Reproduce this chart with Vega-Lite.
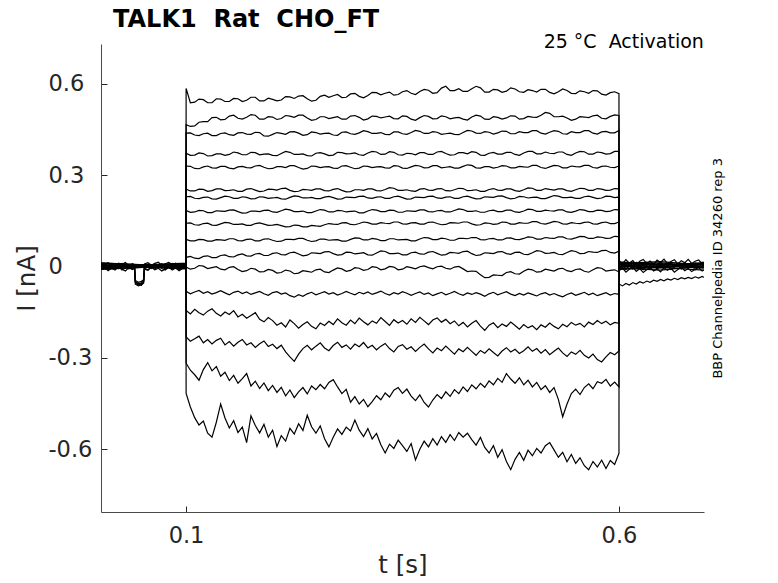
{
"$schema":"https://vega.github.io/schema/vega-lite/v6.json",
"width":603,"height":468,
"autosize":{"type":"none"},
"padding":{"left":101,"top":44,"right":74,"bottom":71},
"background":"white",
"config":{"view":{"stroke":null},"font":"DejaVu Sans"},
"encoding":{
"x":{"field":"t","type":"quantitative","scale":{"domain":[0.0018,0.6982],"nice":false,"zero":false},
"axis":{"values":[0.1,0.6],"format":".1f","title":"t [s]","grid":false,"tickSize":-6,"tickColor":"#262626","domainColor":"#4a4a4a","labelFontSize":22.5,"labelColor":"#262626","labelPadding":18,"labelFont":"DejaVu Sans","titleFont":"DejaVu Sans","titleFontSize":24.5,"titleFontWeight":"normal","titleColor":"#262626","titlePadding":7}},
"y":{"field":"v","type":"quantitative","scale":{"domain":[-0.807,0.731],"nice":false,"zero":false},
"axis":{"values":[-0.6,-0.3,0,0.3,0.6],"labelExpr":"datum.value == 0 ? '\u00a00' : (datum.value < 0 ? '-' + format(-datum.value, '.1f') : format(datum.value, '.1f'))","labelAlign":"left","labelPadding":59,"title":"I [nA]","grid":false,"tickSize":-6,"tickColor":"#262626","domainColor":"#4a4a4a","labelFontSize":22.5,"labelColor":"#262626","labelFont":"DejaVu Sans","titleFont":"DejaVu Sans","titleFontSize":24.5,"titleFontWeight":"normal","titleColor":"#262626","titlePadding":9}}
},
"layer":[
{
"data":{"values":[
{"t":0.002,"a":0.010,"e":-0.002,"i":0.003,"m":-0.011,"q":-0.007,"b":0.008,"c":-0.004,"d":0.012,"f":0.001,"g":-0.008,"h":0.006,"j":-0.002,"k":0.011,"l":-0.010,"n":0.004,"o":-0.006,"p":0.002},
{"t":0.006,"a":0.003,"e":0.007,"i":-0.006,"m":-0.003,"q":0.001},
{"t":0.010,"a":0.012,"e":0.001,"i":0.001,"m":-0.014,"q":-0.010},
{"t":0.014,"a":0.005,"e":0.009,"i":-0.004,"m":-0.006,"q":-0.002},
{"t":0.018,"a":0.001,"e":-0.003,"i":0.005,"m":-0.012,"q":-0.008},
{"t":0.022,"a":0.011,"e":0.004,"i":-0.007,"m":-0.001,"q":0.000},
{"t":0.026,"a":0.007,"e":0.010,"i":-0.001,"m":-0.009,"q":-0.012},
{"t":0.030,"a":0.013,"e":-0.001,"i":0.004,"m":-0.015,"q":-0.005},
{"t":0.034,"a":0.002,"e":0.006,"i":-0.008,"m":-0.004,"q":0.002},
{"t":0.038,"a":0.009,"e":0.000,"i":0.002,"m":-0.010,"q":-0.009},
{"t":0.0405,"a":0.006,"e":0.003,"i":-0.003,"m":-0.007,"q":-0.004},
{"t":0.0415,"a":-0.046,"e":-0.051,"i":-0.055,"m":-0.058,"q":-0.050},
{"t":0.045,"a":-0.052,"e":-0.058,"i":-0.061,"m":-0.064,"q":-0.056},
{"t":0.0485,"a":-0.049,"e":-0.054,"i":-0.057,"m":-0.060,"q":-0.062},
{"t":0.051,"a":-0.044,"e":-0.049,"i":-0.052,"m":-0.055,"q":-0.047},
{"t":0.052,"a":0.008,"e":0.001,"i":-0.004,"m":-0.009,"q":-0.006},
{"t":0.056,"a":0.012,"e":0.007,"i":0.002,"m":-0.013,"q":-0.011},
{"t":0.060,"a":0.004,"e":-0.002,"i":-0.007,"m":-0.003,"q":-0.001},
{"t":0.064,"a":0.010,"e":0.008,"i":0.000,"m":-0.011,"q":-0.009},
{"t":0.068,"a":0.014,"e":0.002,"i":-0.005,"m":-0.006,"q":0.001},
{"t":0.072,"a":0.003,"e":0.009,"i":0.003,"m":-0.015,"q":-0.007},
{"t":0.076,"a":0.009,"e":-0.001,"i":-0.008,"m":-0.008,"q":-0.012},
{"t":0.080,"a":0.013,"e":0.005,"i":0.001,"m":-0.002,"q":-0.003},
{"t":0.084,"a":0.006,"e":0.010,"i":-0.004,"m":-0.012,"q":-0.008},
{"t":0.088,"a":0.011,"e":0.000,"i":0.004,"m":-0.005,"q":0.000},
{"t":0.092,"a":0.002,"e":0.006,"i":-0.006,"m":-0.014,"q":-0.010},
{"t":0.096,"a":0.010,"e":0.003,"i":-0.001,"m":-0.007,"q":-0.004},
{"t":0.100,"a":0.007,"e":0.004,"i":-0.002,"m":-0.006,"q":-0.004,"b":0.003,"c":0.006,"d":-0.002,"f":0.009,"g":0.002,"h":-0.005,"j":0.011,"k":0.000,"l":0.004,"n":-0.008,"o":0.007,"p":-0.003},
{"t":0.1001,"a":0.585,"b":0.466,"c":0.438,"d":0.372,"e":0.330,"f":0.254,"g":0.229,"h":0.184,"i":0.142,"j":0.089,"k":0.030,"l":-0.002,"m":-0.082,"n":-0.145,"o":-0.232,"p":-0.318,"q":-0.417},
{"t":0.105,"a":0.538,"b":0.460,"c":0.439,"d":0.365,"e":0.329,"f":0.248,"g":0.230,"h":0.178,"i":0.143,"j":0.084,"k":0.033,"l":-0.009,"m":-0.090,"n":-0.156,"o":-0.246,"p":-0.341,"q":-0.462},
{"t":0.11,"a":0.540,"b":0.462,"c":0.432,"d":0.366,"e":0.322,"f":0.248,"g":0.224,"h":0.179,"i":0.137,"j":0.084,"k":0.027,"l":-0.006,"m":-0.084,"n":-0.141,"o":-0.238,"p":-0.356,"q":-0.497},
{"t":0.115,"a":0.550,"b":0.474,"c":0.430,"d":0.373,"e":0.321,"f":0.254,"g":0.223,"h":0.184,"i":0.136,"j":0.089,"k":0.026,"l":0.003,"m":-0.079,"n":-0.152,"o":-0.229,"p":-0.374,"q":-0.521},
{"t":0.12,"a":0.548,"b":0.476,"c":0.436,"d":0.371,"e":0.327,"f":0.253,"g":0.227,"h":0.183,"i":0.141,"j":0.088,"k":0.033,"l":0.001,"m":-0.088,"n":-0.160,"o":-0.251,"p":-0.339,"q":-0.508},
{"t":0.125,"a":0.538,"b":0.476,"c":0.438,"d":0.363,"e":0.330,"f":0.247,"g":0.228,"h":0.177,"i":0.142,"j":0.083,"k":0.035,"l":-0.007,"m":-0.083,"n":-0.147,"o":-0.240,"p":-0.316,"q":-0.548},
{"t":0.13,"a":0.538,"b":0.489,"c":0.430,"d":0.364,"e":0.324,"f":0.249,"g":0.222,"h":0.177,"i":0.136,"j":0.083,"k":0.029,"l":-0.004,"m":-0.091,"n":-0.139,"o":-0.255,"p":-0.343,"q":-0.561},
{"t":0.135,"a":0.551,"b":0.490,"c":0.430,"d":0.370,"e":0.323,"f":0.255,"g":0.221,"h":0.183,"i":0.135,"j":0.088,"k":0.029,"l":-0.001,"m":-0.086,"n":-0.154,"o":-0.243,"p":-0.329,"q":-0.512},
{"t":0.14,"a":0.550,"b":0.482,"c":0.437,"d":0.370,"e":0.329,"f":0.255,"g":0.226,"h":0.182,"i":0.140,"j":0.087,"k":0.036,"l":-0.009,"m":-0.080,"n":-0.163,"o":-0.236,"p":-0.361,"q":-0.452},
{"t":0.145,"a":0.542,"b":0.483,"c":0.439,"d":0.365,"e":0.329,"f":0.249,"g":0.231,"h":0.181,"i":0.145,"j":0.086,"k":0.038,"l":-0.011,"m":-0.087,"n":-0.150,"o":-0.258,"p":-0.348,"q":-0.498},
{"t":0.15,"a":0.542,"b":0.494,"c":0.433,"d":0.368,"e":0.323,"f":0.250,"g":0.229,"h":0.185,"i":0.143,"j":0.091,"k":0.032,"l":-0.003,"m":-0.093,"n":-0.158,"o":-0.247,"p":-0.375,"q":-0.531},
{"t":0.155,"a":0.552,"b":0.497,"c":0.431,"d":0.376,"e":0.321,"f":0.252,"g":0.224,"h":0.186,"i":0.138,"j":0.091,"k":0.031,"l":-0.001,"m":-0.085,"n":-0.145,"o":-0.262,"p":-0.358,"q":-0.507},
{"t":0.16,"a":0.551,"b":0.487,"c":0.439,"d":0.373,"e":0.327,"f":0.247,"g":0.224,"h":0.180,"i":0.138,"j":0.085,"k":0.038,"l":-0.010,"m":-0.081,"n":-0.166,"o":-0.249,"p":-0.384,"q":-0.546},
{"t":0.165,"a":0.542,"b":0.484,"c":0.440,"d":0.367,"e":0.329,"f":0.247,"g":0.229,"h":0.175,"i":0.140,"j":0.084,"k":0.041,"l":-0.017,"m":-0.089,"n":-0.157,"o":-0.240,"p":-0.369,"q":-0.528},
{"t":0.17,"a":0.546,"b":0.490,"c":0.435,"d":0.367,"e":0.325,"f":0.254,"g":0.227,"h":0.176,"i":0.135,"j":0.089,"k":0.035,"l":-0.014,"m":-0.084,"n":-0.170,"o":-0.258,"p":-0.352,"q":-0.579},
{"t":0.175,"a":0.556,"b":0.499,"c":0.434,"d":0.375,"e":0.324,"f":0.256,"g":0.222,"h":0.182,"i":0.135,"j":0.090,"k":0.034,"l":-0.006,"m":-0.092,"n":-0.161,"o":-0.251,"p":-0.393,"q":-0.491},
{"t":0.18,"a":0.556,"b":0.497,"c":0.441,"d":0.374,"e":0.330,"f":0.251,"g":0.223,"h":0.182,"i":0.141,"j":0.084,"k":0.041,"l":-0.009,"m":-0.087,"n":-0.152,"o":-0.266,"p":-0.377,"q":-0.523},
{"t":0.185,"a":0.544,"b":0.484,"c":0.440,"d":0.367,"e":0.332,"f":0.246,"g":0.229,"h":0.180,"i":0.143,"j":0.084,"k":0.043,"l":-0.018,"m":-0.082,"n":-0.174,"o":-0.254,"p":-0.401,"q":-0.547},
{"t":0.19,"a":0.544,"b":0.484,"c":0.429,"d":0.369,"e":0.326,"f":0.248,"g":0.228,"h":0.184,"i":0.139,"j":0.090,"k":0.036,"l":-0.017,"m":-0.090,"n":-0.182,"o":-0.245,"p":-0.383,"q":-0.519},
{"t":0.195,"a":0.553,"b":0.492,"c":0.428,"d":0.370,"e":0.321,"f":0.254,"g":0.224,"h":0.185,"i":0.135,"j":0.091,"k":0.036,"l":-0.010,"m":-0.095,"n":-0.168,"o":-0.263,"p":-0.408,"q":-0.561},
{"t":0.20,"a":0.549,"b":0.491,"c":0.434,"d":0.365,"e":0.322,"f":0.253,"g":0.225,"h":0.179,"i":0.136,"j":0.086,"k":0.043,"l":-0.013,"m":-0.086,"n":-0.178,"o":-0.256,"p":-0.391,"q":-0.538},
{"t":0.205,"a":0.544,"b":0.483,"c":0.440,"d":0.364,"e":0.328,"f":0.251,"g":0.227,"h":0.178,"i":0.138,"j":0.082,"k":0.045,"l":-0.022,"m":-0.083,"n":-0.193,"o":-0.270,"p":-0.414,"q":-0.592},
{"t":0.21,"a":0.547,"b":0.486,"c":0.437,"d":0.371,"e":0.328,"f":0.256,"g":0.222,"h":0.183,"i":0.134,"j":0.083,"k":0.039,"l":-0.020,"m":-0.091,"n":-0.185,"o":-0.259,"p":-0.397,"q":-0.556},
{"t":0.215,"a":0.558,"b":0.496,"c":0.434,"d":0.378,"e":0.325,"f":0.257,"g":0.221,"h":0.188,"i":0.130,"j":0.089,"k":0.038,"l":-0.012,"m":-0.087,"n":-0.199,"o":-0.281,"p":-0.425,"q":-0.574},
{"t":0.22,"a":0.557,"b":0.494,"c":0.442,"d":0.375,"e":0.331,"f":0.250,"g":0.227,"h":0.186,"i":0.131,"j":0.089,"k":0.045,"l":-0.015,"m":-0.096,"n":-0.176,"o":-0.297,"p":-0.406,"q":-0.532},
{"t":0.225,"a":0.552,"b":0.490,"c":0.443,"d":0.368,"e":0.331,"f":0.246,"g":0.232,"h":0.180,"i":0.136,"j":0.088,"k":0.047,"l":-0.024,"m":-0.101,"n":-0.188,"o":-0.312,"p":-0.431,"q":-0.551},
{"t":0.23,"a":0.560,"b":0.497,"c":0.438,"d":0.368,"e":0.325,"f":0.247,"g":0.230,"h":0.180,"i":0.135,"j":0.092,"k":0.041,"l":-0.022,"m":-0.093,"n":-0.203,"o":-0.288,"p":-0.412,"q":-0.517},
{"t":0.235,"a":0.561,"b":0.497,"c":0.431,"d":0.370,"e":0.320,"f":0.253,"g":0.225,"h":0.182,"i":0.130,"j":0.092,"k":0.035,"l":-0.014,"m":-0.098,"n":-0.191,"o":-0.270,"p":-0.398,"q":-0.539},
{"t":0.24,"a":0.551,"b":0.488,"c":0.433,"d":0.364,"e":0.322,"f":0.252,"g":0.225,"h":0.177,"i":0.130,"j":0.086,"k":0.037,"l":-0.016,"m":-0.090,"n":-0.182,"o":-0.259,"p":-0.419,"q":-0.489},
{"t":0.245,"a":0.543,"b":0.480,"c":0.442,"d":0.363,"e":0.330,"f":0.250,"g":0.227,"h":0.177,"i":0.135,"j":0.082,"k":0.045,"l":-0.019,"m":-0.085,"n":-0.197,"o":-0.274,"p":-0.393,"q":-0.527},
{"t":0.25,"a":0.546,"b":0.483,"c":0.440,"d":0.372,"e":0.329,"f":0.255,"g":0.223,"h":0.182,"i":0.133,"j":0.084,"k":0.044,"l":-0.011,"m":-0.093,"n":-0.205,"o":-0.262,"p":-0.405,"q":-0.548},
{"t":0.255,"a":0.559,"b":0.492,"c":0.435,"d":0.374,"e":0.325,"f":0.255,"g":0.223,"h":0.187,"i":0.132,"j":0.090,"k":0.042,"l":-0.009,"m":-0.088,"n":-0.186,"o":-0.251,"p":-0.388,"q":-0.524},
{"t":0.26,"a":0.563,"b":0.492,"c":0.437,"d":0.370,"e":0.327,"f":0.249,"g":0.228,"h":0.185,"i":0.137,"j":0.090,"k":0.048,"l":-0.018,"m":-0.083,"n":-0.194,"o":-0.268,"p":-0.402,"q":-0.566},
{"t":0.265,"a":0.556,"b":0.486,"c":0.438,"d":0.364,"e":0.328,"f":0.248,"g":0.230,"h":0.179,"i":0.141,"j":0.086,"k":0.049,"l":-0.020,"m":-0.091,"n":-0.180,"o":-0.277,"p":-0.381,"q":-0.593},
{"t":0.27,"a":0.561,"b":0.489,"c":0.432,"d":0.366,"e":0.323,"f":0.253,"g":0.226,"h":0.179,"i":0.139,"j":0.087,"k":0.042,"l":-0.012,"m":-0.086,"n":-0.191,"o":-0.260,"p":-0.372,"q":-0.561},
{"t":0.275,"a":0.565,"b":0.492,"c":0.431,"d":0.375,"e":0.322,"f":0.256,"g":0.221,"h":0.184,"i":0.138,"j":0.088,"k":0.037,"l":-0.005,"m":-0.094,"n":-0.172,"o":-0.249,"p":-0.396,"q":-0.534},
{"t":0.28,"a":0.555,"b":0.484,"c":0.441,"d":0.374,"e":0.330,"f":0.250,"g":0.222,"h":0.183,"i":0.143,"j":0.083,"k":0.039,"l":-0.008,"m":-0.089,"n":-0.185,"o":-0.266,"p":-0.418,"q":-0.552},
{"t":0.285,"a":0.556,"b":0.484,"c":0.442,"d":0.370,"e":0.331,"f":0.245,"g":0.228,"h":0.179,"i":0.144,"j":0.083,"k":0.047,"l":-0.016,"m":-0.082,"n":-0.193,"o":-0.258,"p":-0.404,"q":-0.528},
{"t":0.29,"a":0.567,"b":0.494,"c":0.436,"d":0.371,"e":0.326,"f":0.246,"g":0.227,"h":0.181,"i":0.138,"j":0.089,"k":0.046,"l":-0.013,"m":-0.088,"n":-0.176,"o":-0.272,"p":-0.446,"q":-0.541},
{"t":0.295,"a":0.569,"b":0.496,"c":0.434,"d":0.373,"e":0.321,"f":0.252,"g":0.226,"h":0.182,"i":0.137,"j":0.094,"k":0.041,"l":-0.004,"m":-0.093,"n":-0.188,"o":-0.255,"p":-0.428,"q":-0.505},
{"t":0.30,"a":0.559,"b":0.490,"c":0.439,"d":0.367,"e":0.323,"f":0.252,"g":0.230,"h":0.176,"i":0.141,"j":0.093,"k":0.043,"l":-0.006,"m":-0.085,"n":-0.170,"o":-0.264,"p":-0.452,"q":-0.538},
{"t":0.305,"a":0.554,"b":0.481,"c":0.446,"d":0.365,"e":0.330,"f":0.250,"g":0.231,"h":0.176,"i":0.146,"j":0.087,"k":0.045,"l":-0.013,"m":-0.090,"n":-0.182,"o":-0.250,"p":-0.437,"q":-0.559},
{"t":0.31,"a":0.562,"b":0.485,"c":0.443,"d":0.373,"e":0.329,"f":0.255,"g":0.225,"h":0.182,"i":0.144,"j":0.087,"k":0.038,"l":-0.010,"m":-0.084,"n":-0.192,"o":-0.268,"p":-0.461,"q":-0.533},
{"t":0.315,"a":0.572,"b":0.494,"c":0.437,"d":0.378,"e":0.325,"f":0.255,"g":0.224,"h":0.187,"i":0.139,"j":0.092,"k":0.037,"l":-0.001,"m":-0.092,"n":-0.179,"o":-0.259,"p":-0.444,"q":-0.567},
{"t":0.32,"a":0.571,"b":0.493,"c":0.437,"d":0.376,"e":0.327,"f":0.249,"g":0.228,"h":0.185,"i":0.139,"j":0.090,"k":0.044,"l":-0.003,"m":-0.087,"n":-0.187,"o":-0.274,"p":-0.425,"q":-0.549},
{"t":0.325,"a":0.564,"b":0.488,"c":0.440,"d":0.368,"e":0.328,"f":0.248,"g":0.229,"h":0.180,"i":0.144,"j":0.085,"k":0.051,"l":-0.011,"m":-0.081,"n":-0.168,"o":-0.262,"p":-0.438,"q":-0.586},
{"t":0.33,"a":0.569,"b":0.491,"c":0.434,"d":0.369,"e":0.324,"f":0.253,"g":0.224,"h":0.180,"i":0.142,"j":0.085,"k":0.049,"l":-0.008,"m":-0.089,"n":-0.181,"o":-0.253,"p":-0.416,"q":-0.613},
{"t":0.335,"a":0.573,"b":0.494,"c":0.433,"d":0.377,"e":0.323,"f":0.259,"g":0.224,"h":0.185,"i":0.141,"j":0.091,"k":0.042,"l":0.000,"m":-0.094,"n":-0.194,"o":-0.270,"p":-0.429,"q":-0.584},
{"t":0.34,"a":0.563,"b":0.486,"c":0.442,"d":0.375,"e":0.331,"f":0.257,"g":0.229,"h":0.184,"i":0.146,"j":0.091,"k":0.042,"l":-0.002,"m":-0.086,"n":-0.175,"o":-0.281,"p":-0.407,"q":-0.598},
{"t":0.345,"a":0.565,"b":0.485,"c":0.442,"d":0.367,"e":0.330,"f":0.250,"g":0.231,"h":0.178,"i":0.146,"j":0.087,"k":0.044,"l":-0.011,"m":-0.091,"n":-0.186,"o":-0.263,"p":-0.398,"q":-0.571},
{"t":0.35,"a":0.574,"b":0.495,"c":0.436,"d":0.366,"e":0.323,"f":0.250,"g":0.226,"h":0.178,"i":0.140,"j":0.088,"k":0.038,"l":-0.009,"m":-0.083,"n":-0.178,"o":-0.257,"p":-0.417,"q":-0.589},
{"t":0.355,"a":0.578,"b":0.493,"c":0.434,"d":0.372,"e":0.322,"f":0.252,"g":0.221,"h":0.183,"i":0.139,"j":0.089,"k":0.038,"l":-0.001,"m":-0.088,"n":-0.190,"o":-0.272,"p":-0.403,"q":-0.608},
{"t":0.36,"a":0.569,"b":0.484,"c":0.440,"d":0.371,"e":0.327,"f":0.248,"g":0.222,"h":0.182,"i":0.143,"j":0.084,"k":0.045,"l":-0.004,"m":-0.095,"n":-0.172,"o":-0.264,"p":-0.426,"q":-0.582},
{"t":0.365,"a":0.565,"b":0.480,"c":0.447,"d":0.367,"e":0.332,"f":0.247,"g":0.228,"h":0.181,"i":0.144,"j":0.084,"k":0.047,"l":-0.008,"m":-0.089,"n":-0.184,"o":-0.279,"p":-0.441,"q":-0.636},
{"t":0.37,"a":0.575,"b":0.489,"c":0.444,"d":0.374,"e":0.330,"f":0.254,"g":0.227,"h":0.186,"i":0.139,"j":0.090,"k":0.041,"l":-0.001,"m":-0.084,"n":-0.167,"o":-0.266,"p":-0.422,"q":-0.601},
{"t":0.375,"a":0.582,"b":0.496,"c":0.437,"d":0.374,"e":0.324,"f":0.256,"g":0.226,"h":0.186,"i":0.139,"j":0.095,"k":0.040,"l":0.002,"m":-0.092,"n":-0.179,"o":-0.255,"p":-0.447,"q":-0.574},
{"t":0.38,"a":0.579,"b":0.493,"c":0.437,"d":0.368,"e":0.325,"f":0.251,"g":0.230,"h":0.180,"i":0.145,"j":0.094,"k":0.047,"l":-0.004,"m":-0.087,"n":-0.191,"o":-0.271,"p":-0.462,"q":-0.593},
{"t":0.385,"a":0.569,"b":0.485,"c":0.443,"d":0.368,"e":0.331,"f":0.250,"g":0.231,"h":0.179,"i":0.146,"j":0.088,"k":0.049,"l":-0.008,"m":-0.096,"n":-0.176,"o":-0.284,"p":-0.439,"q":-0.566},
{"t":0.39,"a":0.571,"b":0.486,"c":0.441,"d":0.376,"e":0.331,"f":0.255,"g":0.225,"h":0.183,"i":0.141,"j":0.088,"k":0.043,"l":-0.001,"m":-0.090,"n":-0.169,"o":-0.268,"p":-0.421,"q":-0.587},
{"t":0.395,"a":0.586,"b":0.495,"c":0.434,"d":0.378,"e":0.324,"f":0.256,"g":0.224,"h":0.184,"i":0.137,"j":0.093,"k":0.037,"l":0.001,"m":-0.085,"n":-0.183,"o":-0.277,"p":-0.434,"q":-0.559},
{"t":0.40,"a":0.592,"b":0.492,"c":0.436,"d":0.371,"e":0.326,"f":0.249,"g":0.228,"h":0.179,"i":0.138,"j":0.091,"k":0.039,"l":-0.006,"m":-0.093,"n":-0.174,"o":-0.262,"p":-0.412,"q":-0.578},
{"t":0.405,"a":0.578,"b":0.485,"c":0.438,"d":0.366,"e":0.328,"f":0.248,"g":0.229,"h":0.179,"i":0.144,"j":0.086,"k":0.046,"l":-0.009,"m":-0.088,"n":-0.188,"o":-0.275,"p":-0.427,"q":-0.553},
{"t":0.41,"a":0.578,"b":0.488,"c":0.434,"d":0.367,"e":0.323,"f":0.252,"g":0.224,"h":0.184,"i":0.143,"j":0.086,"k":0.045,"l":-0.002,"m":-0.082,"n":-0.179,"o":-0.288,"p":-0.405,"q":-0.572},
{"t":0.415,"a":0.584,"b":0.490,"c":0.433,"d":0.374,"e":0.323,"f":0.257,"g":0.224,"h":0.189,"i":0.142,"j":0.092,"k":0.043,"l":0.000,"m":-0.090,"n":-0.195,"o":-0.271,"p":-0.418,"q":-0.546},
{"t":0.42,"a":0.575,"b":0.484,"c":0.440,"d":0.374,"e":0.329,"f":0.256,"g":0.229,"h":0.187,"i":0.146,"j":0.092,"k":0.049,"l":-0.008,"m":-0.095,"n":-0.184,"o":-0.280,"p":-0.396,"q":-0.561},
{"t":0.425,"a":0.575,"b":0.481,"c":0.447,"d":0.370,"e":0.334,"f":0.249,"g":0.231,"h":0.181,"i":0.146,"j":0.091,"k":0.050,"l":-0.017,"m":-0.087,"n":-0.199,"o":-0.266,"p":-0.411,"q":-0.548},
{"t":0.43,"a":0.584,"b":0.491,"c":0.445,"d":0.377,"e":0.332,"f":0.250,"g":0.226,"h":0.181,"i":0.140,"j":0.095,"k":0.042,"l":-0.015,"m":-0.092,"n":-0.187,"o":-0.279,"p":-0.389,"q":-0.569},
{"t":0.435,"a":0.592,"b":0.497,"c":0.438,"d":0.375,"e":0.324,"f":0.252,"g":0.222,"h":0.183,"i":0.136,"j":0.095,"k":0.036,"l":-0.016,"m":-0.086,"n":-0.178,"o":-0.292,"p":-0.402,"q":-0.587},
{"t":0.44,"a":0.587,"b":0.494,"c":0.437,"d":0.366,"e":0.323,"f":0.247,"g":0.223,"h":0.178,"i":0.137,"j":0.088,"k":0.038,"l":-0.027,"m":-0.091,"n":-0.196,"o":-0.276,"p":-0.384,"q":-0.562},
{"t":0.445,"a":0.573,"b":0.484,"c":0.443,"d":0.365,"e":0.328,"f":0.247,"g":0.229,"h":0.178,"i":0.143,"j":0.087,"k":0.045,"l":-0.037,"m":-0.098,"n":-0.210,"o":-0.285,"p":-0.397,"q":-0.595},
{"t":0.45,"a":0.573,"b":0.483,"c":0.441,"d":0.372,"e":0.328,"f":0.253,"g":0.228,"h":0.183,"i":0.142,"j":0.091,"k":0.044,"l":-0.036,"m":-0.090,"n":-0.193,"o":-0.271,"p":-0.376,"q":-0.613},
{"t":0.455,"a":0.582,"b":0.492,"c":0.435,"d":0.375,"e":0.323,"f":0.256,"g":0.227,"h":0.185,"i":0.138,"j":0.092,"k":0.042,"l":-0.028,"m":-0.085,"n":-0.185,"o":-0.283,"p":-0.389,"q":-0.589},
{"t":0.46,"a":0.580,"b":0.490,"c":0.439,"d":0.369,"e":0.326,"f":0.251,"g":0.231,"h":0.180,"i":0.140,"j":0.087,"k":0.048,"l":-0.029,"m":-0.093,"n":-0.201,"o":-0.294,"p":-0.368,"q":-0.627},
{"t":0.465,"a":0.572,"b":0.484,"c":0.445,"d":0.369,"e":0.331,"f":0.250,"g":0.232,"h":0.180,"i":0.146,"j":0.087,"k":0.049,"l":-0.030,"m":-0.088,"n":-0.189,"o":-0.278,"p":-0.381,"q":-0.602},
{"t":0.47,"a":0.576,"b":0.488,"c":0.444,"d":0.375,"e":0.330,"f":0.255,"g":0.226,"h":0.185,"i":0.145,"j":0.093,"k":0.042,"l":-0.020,"m":-0.083,"n":-0.197,"o":-0.267,"p":-0.352,"q":-0.641},
{"t":0.475,"a":0.587,"b":0.495,"c":0.436,"d":0.375,"e":0.324,"f":0.255,"g":0.222,"h":0.185,"i":0.139,"j":0.094,"k":0.040,"l":-0.017,"m":-0.091,"n":-0.183,"o":-0.281,"p":-0.370,"q":-0.668},
{"t":0.48,"a":0.583,"b":0.494,"c":0.436,"d":0.368,"e":0.324,"f":0.249,"g":0.224,"h":0.179,"i":0.139,"j":0.089,"k":0.046,"l":-0.024,"m":-0.096,"n":-0.194,"o":-0.272,"p":-0.384,"q":-0.634},
{"t":0.485,"a":0.574,"b":0.484,"c":0.443,"d":0.365,"e":0.329,"f":0.247,"g":0.230,"h":0.178,"i":0.144,"j":0.088,"k":0.047,"l":-0.025,"m":-0.089,"n":-0.206,"o":-0.286,"p":-0.366,"q":-0.611},
{"t":0.49,"a":0.572,"b":0.486,"c":0.440,"d":0.373,"e":0.327,"f":0.252,"g":0.229,"h":0.182,"i":0.142,"j":0.092,"k":0.040,"l":-0.016,"m":-0.094,"n":-0.191,"o":-0.277,"p":-0.389,"q":-0.637},
{"t":0.495,"a":0.581,"b":0.493,"c":0.440,"d":0.378,"e":0.326,"f":0.258,"g":0.225,"h":0.188,"i":0.142,"j":0.097,"k":0.039,"l":-0.009,"m":-0.087,"n":-0.202,"o":-0.264,"p":-0.374,"q":-0.604},
{"t":0.50,"a":0.578,"b":0.491,"c":0.446,"d":0.378,"e":0.332,"f":0.257,"g":0.227,"h":0.187,"i":0.147,"j":0.096,"k":0.045,"l":-0.011,"m":-0.092,"n":-0.195,"o":-0.279,"p":-0.396,"q":-0.622},
{"t":0.505,"a":0.573,"b":0.490,"c":0.446,"d":0.370,"e":0.332,"f":0.250,"g":0.228,"h":0.181,"i":0.147,"j":0.090,"k":0.052,"l":-0.019,"m":-0.097,"n":-0.208,"o":-0.270,"p":-0.381,"q":-0.598},
{"t":0.51,"a":0.582,"b":0.497,"c":0.438,"d":0.370,"e":0.325,"f":0.250,"g":0.223,"h":0.181,"i":0.141,"j":0.090,"k":0.050,"l":-0.017,"m":-0.090,"n":-0.192,"o":-0.285,"p":-0.405,"q":-0.613},
{"t":0.515,"a":0.582,"b":0.506,"c":0.435,"d":0.376,"e":0.322,"f":0.256,"g":0.223,"h":0.185,"i":0.139,"j":0.095,"k":0.043,"l":-0.009,"m":-0.086,"n":-0.200,"o":-0.273,"p":-0.392,"q":-0.589},
{"t":0.52,"a":0.572,"b":0.503,"c":0.441,"d":0.372,"e":0.327,"f":0.253,"g":0.228,"h":0.183,"i":0.143,"j":0.093,"k":0.044,"l":-0.012,"m":-0.094,"n":-0.186,"o":-0.290,"p":-0.414,"q":-0.579},
{"t":0.525,"a":0.567,"b":0.492,"c":0.446,"d":0.371,"e":0.332,"f":0.251,"g":0.233,"h":0.182,"i":0.148,"j":0.092,"k":0.046,"l":-0.015,"m":-0.089,"n":-0.197,"o":-0.279,"p":-0.398,"q":-0.603},
{"t":0.53,"a":0.574,"b":0.492,"c":0.444,"d":0.376,"e":0.331,"f":0.255,"g":0.231,"h":0.186,"i":0.146,"j":0.097,"k":0.040,"l":-0.008,"m":-0.095,"n":-0.205,"o":-0.268,"p":-0.437,"q":-0.627},
{"t":0.535,"a":0.583,"b":0.494,"c":0.436,"d":0.376,"e":0.324,"f":0.255,"g":0.226,"h":0.186,"i":0.140,"j":0.097,"k":0.039,"l":-0.006,"m":-0.100,"n":-0.190,"o":-0.284,"p":-0.494,"q":-0.611},
{"t":0.54,"a":0.578,"b":0.488,"c":0.435,"d":0.368,"e":0.324,"f":0.249,"g":0.226,"h":0.179,"i":0.139,"j":0.091,"k":0.046,"l":-0.014,"m":-0.092,"n":-0.198,"o":-0.296,"p":-0.452,"q":-0.642},
{"t":0.545,"a":0.569,"b":0.480,"c":0.443,"d":0.365,"e":0.330,"f":0.247,"g":0.228,"h":0.178,"i":0.144,"j":0.090,"k":0.052,"l":-0.017,"m":-0.087,"n":-0.184,"o":-0.281,"p":-0.418,"q":-0.618},
{"t":0.55,"a":0.568,"b":0.484,"c":0.440,"d":0.373,"e":0.328,"f":0.252,"g":0.224,"h":0.182,"i":0.142,"j":0.094,"k":0.049,"l":-0.010,"m":-0.095,"n":-0.193,"o":-0.289,"p":-0.403,"q":-0.647},
{"t":0.555,"a":0.577,"b":0.492,"c":0.440,"d":0.378,"e":0.327,"f":0.257,"g":0.224,"h":0.187,"i":0.141,"j":0.099,"k":0.042,"l":-0.008,"m":-0.090,"n":-0.187,"o":-0.276,"p":-0.421,"q":-0.629},
{"t":0.56,"a":0.574,"b":0.491,"c":0.446,"d":0.377,"e":0.332,"f":0.256,"g":0.229,"h":0.185,"i":0.145,"j":0.098,"k":0.043,"l":-0.016,"m":-0.085,"n":-0.199,"o":-0.292,"p":-0.398,"q":-0.655},
{"t":0.565,"a":0.569,"b":0.489,"c":0.446,"d":0.369,"e":0.332,"f":0.250,"g":0.231,"h":0.180,"i":0.146,"j":0.092,"k":0.049,"l":-0.019,"m":-0.093,"n":-0.183,"o":-0.301,"p":-0.386,"q":-0.668},
{"t":0.57,"a":0.578,"b":0.495,"c":0.438,"d":0.369,"e":0.325,"f":0.250,"g":0.227,"h":0.180,"i":0.140,"j":0.092,"k":0.047,"l":-0.011,"m":-0.088,"n":-0.191,"o":-0.288,"p":-0.402,"q":-0.641},
{"t":0.575,"a":0.577,"b":0.497,"c":0.435,"d":0.376,"e":0.323,"f":0.256,"g":0.223,"h":0.185,"i":0.139,"j":0.097,"k":0.046,"l":-0.004,"m":-0.096,"n":-0.178,"o":-0.306,"p":-0.379,"q":-0.659},
{"t":0.58,"a":0.566,"b":0.487,"c":0.442,"d":0.374,"e":0.329,"f":0.254,"g":0.225,"h":0.184,"i":0.144,"j":0.096,"k":0.052,"l":-0.006,"m":-0.091,"n":-0.188,"o":-0.314,"p":-0.384,"q":-0.637},
{"t":0.585,"a":0.563,"b":0.485,"c":0.444,"d":0.369,"e":0.330,"f":0.250,"g":0.231,"h":0.180,"i":0.146,"j":0.092,"k":0.053,"l":-0.015,"m":-0.086,"n":-0.180,"o":-0.297,"p":-0.371,"q":-0.664},
{"t":0.59,"a":0.571,"b":0.493,"c":0.439,"d":0.371,"e":0.326,"f":0.251,"g":0.230,"h":0.182,"i":0.141,"j":0.093,"k":0.046,"l":-0.013,"m":-0.094,"n":-0.192,"o":-0.283,"p":-0.393,"q":-0.638},
{"t":0.595,"a":0.574,"b":0.498,"c":0.439,"d":0.378,"e":0.325,"f":0.256,"g":0.226,"h":0.187,"i":0.141,"j":0.099,"k":0.044,"l":-0.011,"m":-0.089,"n":-0.184,"o":-0.290,"p":-0.380,"q":-0.651},
{"t":0.60,"a":0.568,"b":0.496,"c":0.447,"d":0.378,"e":0.330,"f":0.255,"g":0.228,"h":0.186,"i":0.146,"j":0.098,"k":0.050,"l":-0.018,"m":-0.092,"n":-0.187,"o":-0.278,"p":-0.396,"q":-0.614},
{"t":0.6001,"a":0.020,"e":0.004,"i":-0.006,"m":-0.014,"q":-0.058,"b":0.010,"c":-0.003,"d":0.015,"f":0.002,"g":0.009,"h":-0.008,"j":0.006,"k":0.013,"l":-0.010,"n":0.000,"o":-0.005,"p":0.005},
{"t":0.604,"a":0.008,"e":0.012,"i":0.004,"m":-0.005,"q":-0.064},
{"t":0.608,"a":0.022,"e":-0.001,"i":-0.010,"m":-0.019,"q":-0.056},
{"t":0.612,"a":0.011,"e":0.009,"i":0.002,"m":-0.009,"q":-0.061},
{"t":0.616,"a":0.019,"e":0.003,"i":-0.008,"m":-0.002,"q":-0.053},
{"t":0.620,"a":0.006,"e":0.013,"i":0.005,"m":-0.016,"q":-0.058},
{"t":0.624,"a":0.017,"e":-0.002,"i":-0.004,"m":-0.007,"q":-0.050},
{"t":0.628,"a":0.023,"e":0.008,"i":-0.011,"m":-0.020,"q":-0.055},
{"t":0.632,"a":0.010,"e":0.014,"i":0.003,"m":-0.011,"q":-0.048},
{"t":0.636,"a":0.018,"e":0.001,"i":-0.007,"m":-0.003,"q":-0.052},
{"t":0.640,"a":0.007,"e":0.010,"i":0.006,"m":-0.015,"q":-0.045},
{"t":0.644,"a":0.021,"e":0.004,"i":-0.009,"m":-0.008,"q":-0.049},
{"t":0.648,"a":0.013,"e":0.015,"i":0.001,"m":-0.018,"q":-0.043,"b":0.004,"c":0.008,"d":0.006,"f":-0.005,"g":0.016,"h":0.001,"j":0.012,"k":0.003,"l":-0.003,"n":0.008,"o":-0.012,"p":-0.002},
{"t":0.652,"a":0.024,"e":0.000,"i":-0.005,"m":-0.004,"q":-0.047},
{"t":0.656,"a":0.009,"e":0.007,"i":0.006,"m":-0.013,"q":-0.041},
{"t":0.660,"a":0.016,"e":0.012,"i":-0.010,"m":-0.006,"q":-0.045},
{"t":0.664,"a":0.022,"e":-0.001,"i":-0.002,"m":-0.019,"q":-0.039},
{"t":0.668,"a":0.008,"e":0.009,"i":0.004,"m":-0.010,"q":-0.043},
{"t":0.672,"a":0.019,"e":0.003,"i":-0.008,"m":-0.002,"q":-0.037},
{"t":0.676,"a":0.012,"e":0.013,"i":0.002,"m":-0.014,"q":-0.041},
{"t":0.680,"a":0.023,"e":0.005,"i":-0.006,"m":-0.007,"q":-0.036},
{"t":0.684,"a":0.010,"e":-0.002,"i":0.005,"m":-0.017,"q":-0.040},
{"t":0.688,"a":0.017,"e":0.011,"i":-0.011,"m":-0.009,"q":-0.034},
{"t":0.692,"a":0.021,"e":0.006,"i":0.000,"m":-0.004,"q":-0.038},
{"t":0.696,"a":0.009,"e":0.014,"i":-0.004,"m":-0.015,"q":-0.033},
{"t":0.698,"a":0.015,"e":0.003,"i":0.003,"m":-0.011,"q":-0.036,"b":0.012,"c":0.001,"d":0.011,"f":0.007,"g":0.004,"h":-0.004,"j":-0.002,"k":0.009,"l":-0.012,"n":-0.006,"o":0.002,"p":0.010}
]},
"transform":[{"fold":["a","b","c","d","e","f","g","h","i","j","k","l","m","n","o","p","q"],"as":["s","v"]},{"filter":"isValid(datum.v)"}],
"mark":{"type":"line","color":"#000","strokeWidth":1.2,"clip":true},
"encoding":{"detail":{"field":"s","type":"nominal"},"order":{"field":"t","type":"quantitative"}}
},
{
"data":{"values":[{"t":0.0157,"v":0.787,"label":"TALK1 \u00a0Rat \u00a0CHO_FT"}]},
"mark":{"type":"text","align":"left","baseline":"alphabetic","fontSize":24,"fontWeight":"bold","font":"DejaVu Sans","color":"#000"},
"encoding":{"text":{"field":"label","type":"nominal"}}
},
{
"data":{"values":[{"t":0.698,"v":0.719,"label":"25 °C \u00a0Activation"}]},
"mark":{"type":"text","align":"right","baseline":"alphabetic","fontSize":19,"font":"DejaVu Sans","color":"#000"},
"encoding":{"text":{"field":"label","type":"nominal"}}
},
{
"data":{"values":[{"t":0.7147,"v":-0.006,"label":"BBP Channelpedia ID 34260 rep 3"}]},
"mark":{"type":"text","angle":270,"align":"center","baseline":"middle","fontSize":13,"font":"DejaVu Sans","color":"#000"},
"encoding":{"text":{"field":"label","type":"nominal"}}
}
]
}
